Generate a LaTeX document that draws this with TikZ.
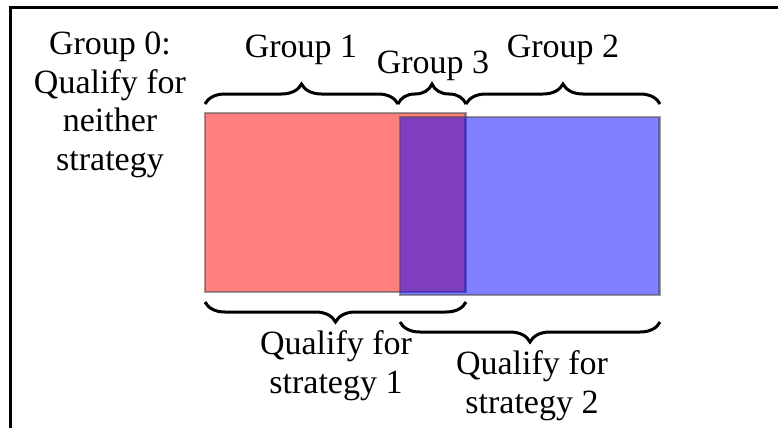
\documentclass[tikz,border=0pt]{standalone}
\usepackage{fontspec}
\setmainfont{Liberation Serif}
\usetikzlibrary{decorations.pathreplacing}
\tikzset{
  lbl/.style={inner sep=0pt, align=center, anchor=base, font=\fontsize{34}{38.5}\selectfont},
  brc/.style={draw=black, line width=3pt, decorate, decoration={brace, amplitude=20pt}},
  boxline/.style={draw=black!70, draw opacity=0.55, line width=2.5pt},
}
\begin{document}
\begin{tikzpicture}[x=1pt, y=-1pt]
\useasboundingbox (0,0) rectangle (778,428);
% frame (top and left only)
\coordinate (fl) at (10.5,428);
\coordinate (fc) at (10.5,7.5);
\coordinate (fr) at (778,7.5);
\draw[line width=3.2pt] (fl) -- (fc) -- (fr);
% rectangles
\coordinate (r1) at (205,113);
\coordinate (r2) at (465.5,292);
\coordinate (b1) at (400,117);
\coordinate (b2) at (659.5,295);
\fill[red, fill opacity=0.5] (r1) rectangle (r2);
\draw[boxline] (r1) rectangle (r2);
\fill[blue, fill opacity=0.5] (b1) rectangle (b2);
\draw[boxline] (b1) rectangle (b2);
% top braces
\coordinate (t0) at (205,104);
\coordinate (t1) at (398,104);
\coordinate (t2) at (466,104);
\coordinate (t3) at (660,104);
\draw[brc] (t0) -- (t1);
\draw[brc] (t1) -- (t2);
\draw[brc] (t2) -- (t3);
% bottom braces
\coordinate (u0) at (205,302);
\coordinate (u1) at (466,302);
\coordinate (v0) at (400,322);
\coordinate (v1) at (660,322);
\draw[brc] (u1) -- (u0);
\draw[brc] (v1) -- (v0);
% labels (base anchor = last line's baseline)
\node[lbl] (g0) at (110,170) {Group 0:\\Qualify for\\neither\\strategy};
\node[lbl] (g1) at (301,57) {Group 1};
\node[lbl] (g3) at (433,73) {Group 3};
\node[lbl] (g2) at (563,57) {Group 2};
\node[lbl] (s1) at (336,393) {Qualify for\\strategy 1};
\node[lbl] (s2) at (532,413) {Qualify for\\strategy 2};
\end{tikzpicture}
\end{document}
